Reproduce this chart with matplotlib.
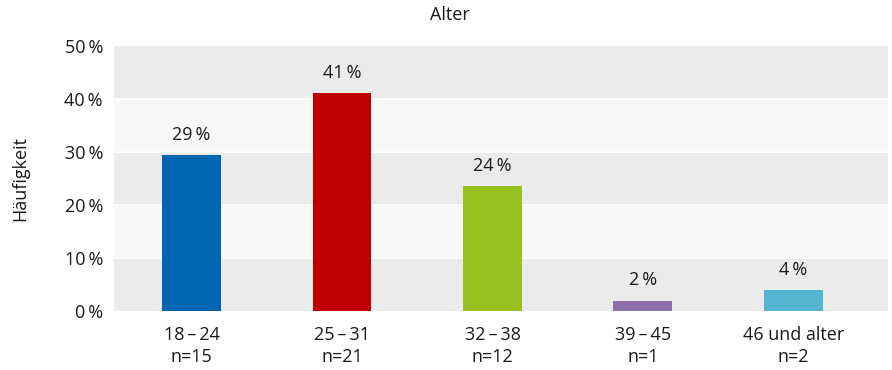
import matplotlib
matplotlib.use("Agg")
import matplotlib.pyplot as plt

plt.rcParams['font.family'] = ['Open Sans', 'DejaVu Sans']

categories = ["18\u2009\u2013\u200924", "25\u2009\u2013\u200931", "32\u2009\u2013\u200938", "39\u2009\u2013\u200945", "46 und alter"]
counts = [15, 21, 12, 1, 2]
total = sum(counts)
values = [c / total * 100 for c in counts]
colors = ["#0066b3", "#c00000", "#96c11f", "#8d6fab", "#55b4cf"]
yticks = [0, 10, 20, 30, 40, 50]
title = "Alter"
ylabel = "Häufigkeit"

FS = 13
TXT = "#1a1a1a"

fig = plt.figure(figsize=(8.92, 3.70), dpi=100)
ax = fig.add_axes([114/892, 59/370, (888-114)/892, (311-46)/370])

# alternating bands
for i in range(len(yticks) - 1):
    col = "#ebebeb" if i % 2 == 0 else "#f8f8f8"
    ax.axhspan(yticks[i], yticks[i+1], color=col, zorder=0, lw=0)
for y in yticks[1:-1]:
    ax.axhline(y, color="white", lw=1.2, zorder=0.5)

x = list(range(len(categories)))
bars = ax.bar(x, values, width=0.392, color=colors, zorder=2)
for xi, v in zip(x, values):
    ax.annotate(f"{v:.0f}\u2009%", (xi, v), xytext=(0, 8), textcoords="offset points",
                ha="center", va="bottom", fontsize=FS, color=TXT)

ax.set_xlim(-0.515, 4.628)
ax.set_ylim(0, 50)
ax.set_yticks(yticks)
ax.set_yticklabels([f"{t}\u2009%" for t in yticks], fontsize=FS, color=TXT)
ax.set_xticks(x)
ax.set_xticklabels([f"{c}\nn={n}" for c, n in zip(categories, counts)], fontsize=FS,
                   color=TXT, linespacing=1.3)
ax.tick_params(axis="both", length=0)
ax.tick_params(axis="y", pad=8)
ax.tick_params(axis="x", pad=10.5)
for s in ax.spines.values():
    s.set_visible(False)

fig.text(450/892, 1 - 15/370, title, ha="center", va="center", fontsize=FS, color=TXT)
fig.text(20/892, 1 - 178.5/370, ylabel, ha="center", va="center", rotation=90, fontsize=FS, color=TXT)

fig.savefig("out.png", dpi=100)
